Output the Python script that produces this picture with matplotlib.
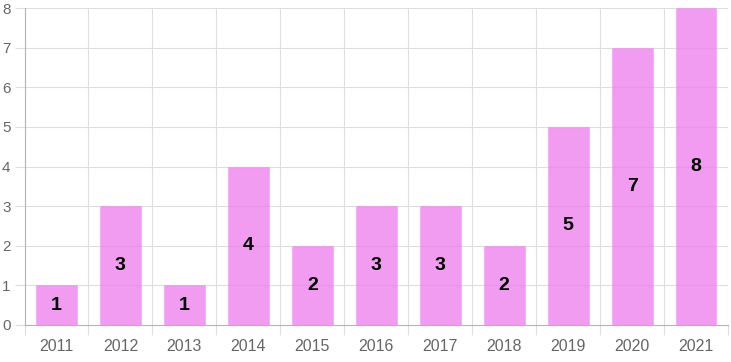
import matplotlib
matplotlib.use("Agg")
import matplotlib.pyplot as plt

years = ["2011", "2012", "2013", "2014", "2015", "2016", "2017", "2018", "2019", "2020", "2021"]
values = [1, 3, 1, 4, 2, 3, 3, 2, 5, 7, 8]

plt.rcParams['font.family'] = ['Liberation Sans', 'DejaVu Sans']

W, H = 731, 362
fig = plt.figure(figsize=(W / 100, H / 100), dpi=100)
ax = fig.add_axes([24.5 / W, (H - 325) / H, (728 - 24.5) / W, (325 - 8) / H])

x = list(range(len(years)))
ax.bar(x, values, width=0.64, color=(238/255, 130/255, 238/255, 0.8),
       edgecolor=(238/255, 130/255, 238/255, 0.35), linewidth=0.8, zorder=3)
for xi, v in zip(x, values):
    ax.text(xi, v / 2, str(v), ha='center', va='center', fontsize=14,
            fontweight='bold', color='black', zorder=6)

ax.set_xlim(-0.5, len(years) - 0.5)
ax.set_ylim(0, 8)
ax.set_yticks(range(0, 9))
ax.set_xticks(x)
ax.set_xticklabels(years)
ax.set_xticks([i - 0.5 for i in range(len(years) + 1)], minor=True)

ax.grid(False)
for i in range(1, 9):
    ax.axhline(i, color='#dedede', lw=0.8, zorder=1)
for i in range(1, len(years) + 1):
    ax.axvline(i - 0.5, color='#dedede', lw=0.8, zorder=1)

for s in ['top', 'right']:
    ax.spines[s].set_visible(False)
for s in ['left', 'bottom']:
    ax.spines[s].set_color('#b3b3b3')
    ax.spines[s].set_linewidth(0.8)
    ax.spines[s].set_zorder(5)

ax.tick_params(axis='x', which='major', length=0, pad=10, labelsize=11.5, labelcolor='#666666')
ax.tick_params(axis='x', which='minor', length=7, color='#dedede', width=0.8)
ax.tick_params(axis='y', length=7, color='#dedede', width=0.8, pad=3, labelsize=11, labelcolor='#666666')

fig.savefig("out.png", dpi=100)
